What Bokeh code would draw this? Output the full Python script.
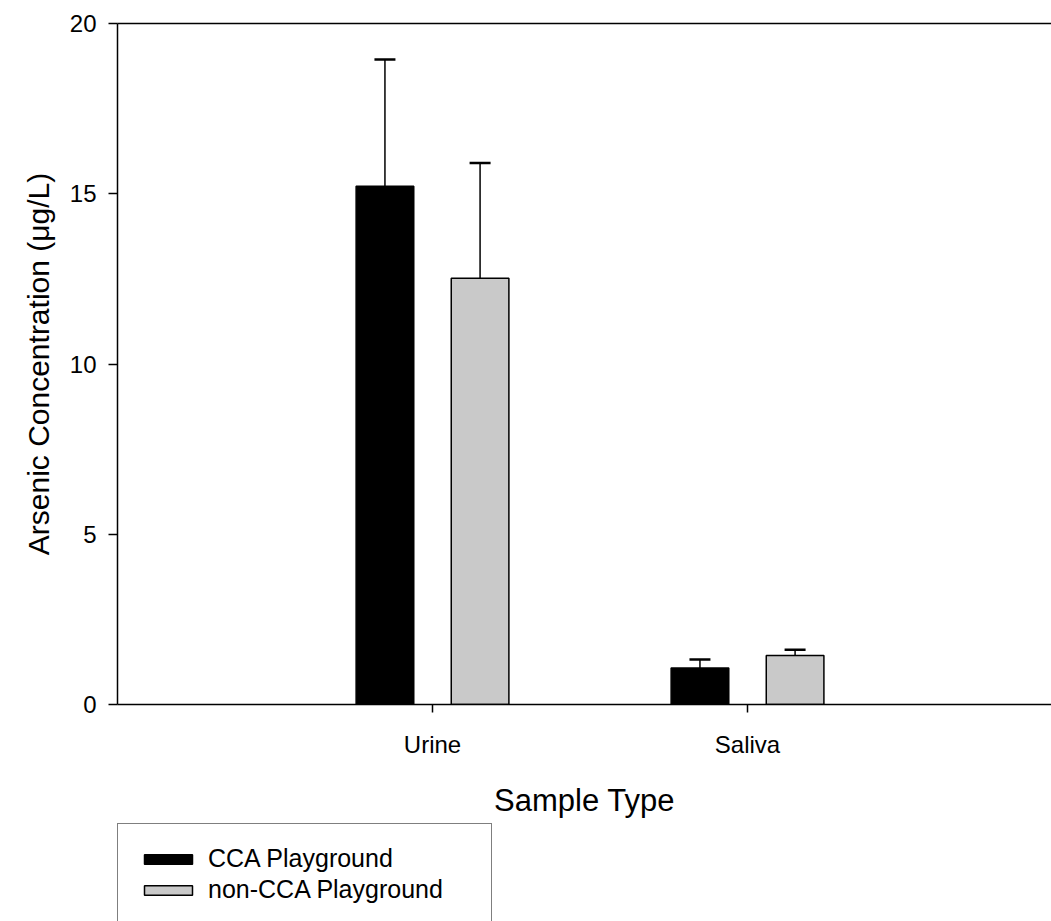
import numpy as np
from bokeh.plotting import figure
from bokeh.layouts import column
from bokeh.models import (ColumnDataSource, Range1d, FixedTicker, LinearAxis,
                          Whisker, TeeHead, Legend, LegendItem)
from bokeh.embed import file_html
from bokeh.resources import INLINE

# ---- data ----
categories = ["Urine", "Saliva"]
cca_mean = [15.22, 1.07]
cca_err = [3.72, 0.25]
noncca_mean = [12.52, 1.44]
noncca_err = [3.38, 0.17]
series_labels = ["CCA Playground", "non-CCA Playground"]
y_ticks = [0, 5, 10, 15, 20]

FONT = "Liberation Sans"
CCA_FILL = "black"
NON_FILL = "#c9c9c9"
xpos = np.arange(1, len(categories) + 1)
offset = 0.151
bar_w = 0.183

p = figure(frame_width=934, frame_height=681,
           x_range=Range1d(0, 2.965), y_range=Range1d(0, 20),
           output_backend="svg", toolbar_location=None,
           min_border_left=117, min_border_right=0,
           min_border_top=23, min_border_bottom=117,
           background_fill_color="white", border_fill_color="white")
p.outline_line_color = None
p.xgrid.visible = False
p.ygrid.visible = False

src_cca = ColumnDataSource(dict(x=xpos - offset, top=cca_mean,
                                upper=np.array(cca_mean) + np.array(cca_err)))
src_non = ColumnDataSource(dict(x=xpos + offset, top=noncca_mean,
                                upper=np.array(noncca_mean) + np.array(noncca_err)))

# error bars (upper only)
for src in (src_cca, src_non):
    w = Whisker(source=src, base="x", lower="top", upper="upper",
                line_color="black", line_width=1.5,
                upper_head=TeeHead(size=21, line_color="black", line_width=2.5),
                lower_head=None)
    p.add_layout(w)

p.vbar(x="x", top="top", width=bar_w, bottom=0, source=src_cca,
       fill_color=CCA_FILL, line_color="black", line_width=1.5)
p.vbar(x="x", top="top", width=bar_w, bottom=0, source=src_non,
       fill_color=NON_FILL, line_color="black", line_width=1.5)

# axes
p.xaxis.ticker = FixedTicker(ticks=list(xpos))
p.xaxis.major_label_overrides = {int(i): c for i, c in zip(xpos, categories)}
p.xaxis.axis_label = "Sample Type"
p.yaxis.ticker = FixedTicker(ticks=y_ticks)
p.yaxis.axis_label = "Arsenic Concentration (\u03bcg/L)"

for ax in (p.xaxis[0], p.yaxis[0]):
    ax.axis_line_color = "black"
    ax.axis_line_width = 1.5
    ax.major_tick_line_color = "black"
    ax.major_tick_line_width = 1.5
    ax.major_tick_in = 0
    ax.minor_tick_line_color = None
    ax.major_label_text_font = FONT
    ax.major_label_text_font_size = "24px"
    ax.major_label_text_color = "black"
    ax.axis_label_text_font = FONT
    ax.axis_label_text_font_style = "normal"
    ax.axis_label_text_color = "black"

p.yaxis.major_tick_out = 9
p.yaxis.major_label_standoff = 12
p.yaxis.axis_label_text_font_size = "30px"
p.yaxis.axis_label_standoff = 12

p.xaxis.major_tick_out = 8
p.xaxis.major_label_standoff = 18
p.xaxis.axis_label_text_font_size = "31px"
p.xaxis.axis_label_standoff = 22

# top frame line
top_axis = LinearAxis(ticker=FixedTicker(ticks=[]), axis_line_color="black",
                      axis_line_width=1.5, major_tick_line_color=None,
                      minor_tick_line_color=None, major_label_text_font_size="0px")
p.add_layout(top_axis, "above")

# ---- legend panel below the chart ----
lg = figure(frame_width=934, frame_height=98, x_range=Range1d(0, 1), y_range=Range1d(0, 1),
            x_axis_location=None, y_axis_location=None,
            output_backend="svg", toolbar_location=None,
            min_border_left=117, min_border_right=0, min_border_top=2, min_border_bottom=0,
            background_fill_color="white", border_fill_color="white")
lg.outline_line_color = None
lg.xgrid.visible = False
lg.ygrid.visible = False
hidden = dict(x=[-10.0], top=[0.0])
k1 = lg.vbar(x="x", top="top", width=0.1, source=ColumnDataSource(hidden),
             fill_color=CCA_FILL, line_color="black", line_width=1.5)
k2 = lg.vbar(x="x", top="top", width=0.1, source=ColumnDataSource(hidden),
             fill_color=NON_FILL, line_color="black", line_width=1.5)
k3 = lg.vbar(x="x", top="top", width=0.1, source=ColumnDataSource(hidden),
             fill_alpha=0, line_alpha=0)
legend = Legend(items=[LegendItem(label=series_labels[0], renderers=[k1]),
                       LegendItem(label=series_labels[1], renderers=[k2]),
                       LegendItem(label=" ", renderers=[k3])],
                location="top_left",
                orientation="vertical",
                glyph_width=60, glyph_height=12,
                label_height=28, label_width=263, label_standoff=10,
                label_text_font=FONT, label_text_font_size="25px",
                label_text_color="black",
                spacing=2, padding=20, margin=0,
                border_line_color="black", border_line_width=1.5,
                background_fill_color="white", background_fill_alpha=1.0)
lg.add_layout(legend, "center")

layout = column(p, lg, spacing=0)
open("out.html", "w").write(file_html(layout, INLINE))
